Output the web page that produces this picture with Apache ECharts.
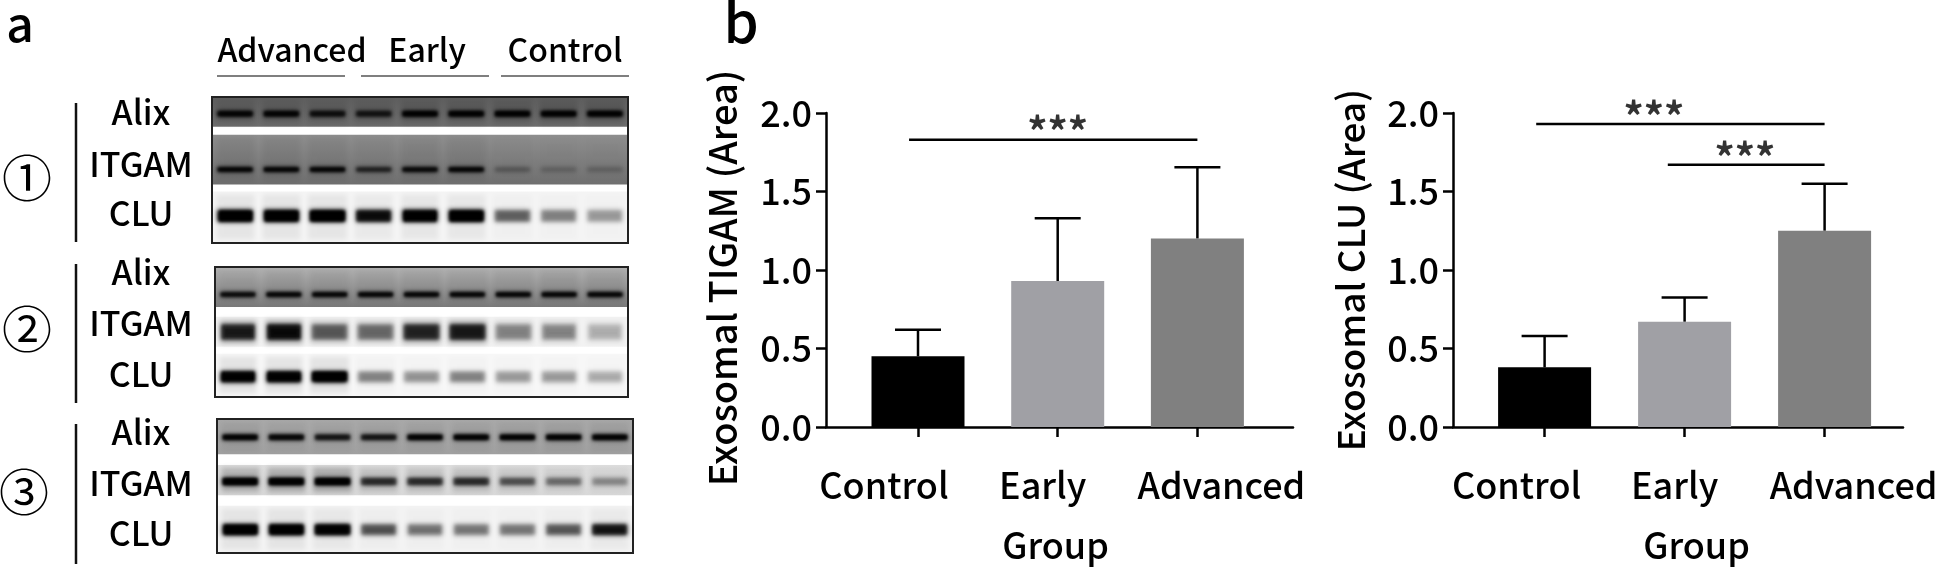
<!DOCTYPE html>
<html><head><meta charset="utf-8">
<style>html,body{margin:0;padding:0;background:#fff}#c{width:1944px;height:577px}</style>
<script src="https://cdn.jsdelivr.net/npm/echarts@6/dist/echarts.min.js"></script>
</head><body><div id="c"></div>
<script>
const groups = ['Control','Early','Advanced'];
const proteins = ['Alix','ITGAM','CLU'];
const tigamMean = [0.45,0.93,1.20];
const tigamErr  = [0.62,1.33,1.655];
const cluMean   = [0.38,0.67,1.25];
const cluErr    = [0.58,0.825,1.55];
const blot1Alix  = [.8,.8,.7,.65,.95,.95,.95,1,1];
const blot1Itgam = [1,1,.85,.6,.8,.85,.2,.12,.12];
const blot1Clu   = [.95,1,1,.7,.9,.85,.35,.25,.18];
const blot2Alix  = [.8,.95,.95,.85,.85,.85,.9,1,1];
const blot2Itgam = [.6,.7,.35,.3,.55,.6,.22,.22,.1];
const blot2Clu   = [1,.95,1,.25,.2,.25,.18,.18,.13];
const blot3Alix  = [1,.8,.7,.7,.85,.9,.9,1,1];
const blot3Itgam = [.85,.95,1,.55,.55,.55,.4,.3,.2];
const blot3Clu   = [1,1,.8,.4,.3,.28,.28,.38,.65];

const FONT = '"Noto Sans CJK SC","Noto Sans",sans-serif';
const W = 500;
const lanes = ['1','2','3','4','5','6','7','8','9'];
const blots = [
 {rows:[blot1Alix,blot1Itgam,blot1Clu], box:[212,97,416,146], frac:[[0,.2],[.255,.6],[.65,1]],
  shade:[['#5e5e5e','#6e6e6e'],['#8e8e8e','#6f6f6f'],['#f4f4f4','#f4f4f4']], pos:[.55,.7,.48], thick:[9,8,16], smear:[.1,.06,.06], label:'①', ly:[103,242], lab:[112,164,213], cy:178, cx:27},
 {rows:[blot2Alix,blot2Itgam,blot2Clu], box:[215,267,413,130], frac:[[0,.305],[.38,.615],[.67,1]],
  shade:[['#b0b0b0','#7a7a7a'],['#f2f2f2','#f2f2f2'],['#f7f7f7','#f7f7f7']], pos:[.68,.5,.55], thick:[8,20,15], smear:[.05,.3,.08], label:'②', ly:[264,403], lab:[272,323,374], cy:329, cx:27},
 {rows:[blot3Alix,blot3Itgam,blot3Clu], box:[217,419,416,134], frac:[[0,.26],[.34,.57],[.65,1]],
  shade:[['#a8a8a8','#a0a0a0'],['#dedede','#d8d8d8'],['#f3f3f3','#f3f3f3']], pos:[.5,.55,.52], thick:[9,11,15], smear:[.05,.22,.06], label:'③', ly:[424,564], lab:[432,483,533], cy:492, cx:24}
];
const charts = [
 {left:826,top:113,w:467,h:314,cx:918,step:139.7,mean:tigamMean,err:tigamErr,title:'Exosomal TIGAM (Area)',titleSize:38,
  namePad:[0,16,0,0],groupPad:[0,8,0,0],labelShift:[68,30,-48],
  sig:[{from:-0.064,to:2,y:1.83,sx:1.0,sy:1.83}]},
 {left:1453,top:113,w:450,h:314,cx:1544.6,step:140,mean:cluMean,err:cluErr,title:'Exosomal CLU (Area)',titleSize:37,
  namePad:[0,0,0,0],groupPad:[0,0,0,37],labelShift:[56,20,-58],
  sig:[{from:-0.06,to:2,y:1.93,sx:0.78,sy:1.93},{from:0.88,to:2,y:1.67,sx:1.43,sy:1.67}]}
];
const barColors = ['#000000','#a0a0a5','#808080'];

const grid=[],xAxis=[],yAxis=[],series=[],graphic=[];
function text(t,x,y,size,weight){graphic.push({type:'text',x,y,style:{text:t,font:(weight||500)+' '+size+'px '+FONT,fill:'#000',align:'center',verticalAlign:'middle'}});}

blots.forEach((b,bi)=>{
  grid.push({left:b.box[0],top:b.box[1],width:b.box[2],height:b.box[3],show:true,borderColor:'#222',borderWidth:2,backgroundColor:'#fff'});
  xAxis.push({type:'category',gridIndex:bi,data:lanes,show:false});
  yAxis.push({type:'category',gridIndex:bi,data:proteins,inverse:true,show:false});
  series.push({type:'custom',xAxisIndex:bi,yAxisIndex:bi,silent:true,z:2,clip:true,
    data:proteins.map((p,r)=>[0,r]),
    renderItem(params,api){
      const cs=params.coordSys,r=api.value(1),f=b.frac[r];
      return {type:'rect',shape:{x:cs.x+1,y:cs.y+1+(cs.height-2)*f[0],width:cs.width-2,height:(cs.height-2)*(f[1]-f[0])},
        style:{fill:new echarts.graphic.LinearGradient(0,0,0,1,[{offset:0,color:b.shade[r][0]},{offset:1,color:b.shade[r][1]}])}};
    }});
  const d=[];
  b.rows.forEach((row,r)=>row.forEach((v,l)=>d.push([l,r,v])));
  series.push({type:'custom',xAxisIndex:bi,yAxisIndex:bi,silent:true,z:3,clip:true,data:d,
    renderItem(params,api){
      const cs=params.coordSys,l=api.value(0),r=api.value(1),v=api.value(2),f=b.frac[r];
      const lw=cs.width/9,h=(cs.height-2)*(f[1]-f[0]);
      const cx=api.coord([l,r])[0],top=cs.y+1+(cs.height-2)*f[0];
      const cy=top+h*b.pos[r],t=b.thick[r],bw=lw*.84;
      const sa=b.smear[r]*v, a=Math.min(1,.12+v*1.05);
      const soft=(x,y,w,hh,al,blur)=>({type:'rect',shape:{x:x-W*4,y,width:w,height:hh},
        style:{fill:'#000',shadowColor:'rgba(0,0,0,'+al+')',shadowBlur:blur,shadowOffsetX:W*4}});
      return {type:'group',children:[
        soft(cx-bw/2,top+2,bw,h-4,sa,5),
        soft(cx-bw/2+2,cy-t/2+2,bw-4,Math.max(2,t-4),a,5),
        soft(cx-bw/2+2,cy-t/2+2,bw-4,Math.max(2,t-4),a*a,3)
      ]};
    }});
  text(b.label,b.cx,b.cy,50,400);
  graphic.push({type:'line',shape:{x1:76,y1:b.ly[0],x2:76,y2:b.ly[1]},style:{stroke:'#111',lineWidth:2.5}});
  proteins.forEach((p,i)=>text(p,141,b.lab[i],34));
});

charts.forEach((c,ci)=>{
  const gi=3+ci;
  grid.push({left:c.left,top:c.top,width:c.w,height:c.h});
  const xMin=(c.left-c.cx)/c.step,xMax=(c.left+c.w-c.cx)/c.step;
  const rich={};
  groups.forEach((g,i)=>{const s=c.labelShift[i];rich['c'+i]={fontFamily:FONT,fontWeight:500,fontSize:36,color:'#000',padding:s>0?[0,s,0,0]:[0,0,0,-s]};});
  xAxis.push({type:'value',gridIndex:gi,min:xMin,max:xMax,splitLine:{show:false},
    name:'Group',nameLocation:'middle',nameGap:100,nameTextStyle:{fontFamily:FONT,fontWeight:500,fontSize:36,color:'#000',padding:c.groupPad},
    axisLine:{show:true,onZero:false,lineStyle:{color:'#000',width:2.5}},
    axisTick:{show:true,length:10,customValues:[0,1,2],lineStyle:{color:'#000',width:2.5}},
    axisLabel:{show:true,margin:40,customValues:[0,1,2],formatter:v=>'{c'+Math.round(v)+'|'+groups[Math.round(v)]+'}',rich,showMinLabel:true,showMaxLabel:true}});
  yAxis.push({type:'value',gridIndex:gi,min:0,max:2,interval:.5,splitLine:{show:false},
    name:c.title,nameLocation:'middle',nameGap:84,nameTextStyle:{fontFamily:FONT,fontWeight:500,fontSize:c.titleSize,color:'#000',padding:c.namePad},
    axisLine:{show:true,onZero:false,lineStyle:{color:'#000',width:2.5}},
    axisTick:{show:true,length:10,lineStyle:{color:'#000',width:2.5}},
    axisLabel:{margin:14,fontFamily:FONT,fontWeight:500,fontSize:36,color:'#000',formatter:v=>v.toFixed(1)}});
  series.push({type:'bar',xAxisIndex:gi,yAxisIndex:gi,barWidth:93,z:3,
    data:c.mean.map((v,i)=>({value:[i,v],itemStyle:{color:barColors[i]}}))});
  series.push({type:'custom',xAxisIndex:gi,yAxisIndex:gi,z:2,silent:true,
    data:c.mean.map((v,i)=>[i,v,c.err[i]]),
    renderItem(params,api){
      const b=api.coord([api.value(0),api.value(1)]),t=api.coord([api.value(0),api.value(2)]);
      const st={stroke:'#000',lineWidth:2.5};
      return {type:'group',children:[
        {type:'line',shape:{x1:b[0],y1:b[1],x2:t[0],y2:t[1]},style:st},
        {type:'line',shape:{x1:t[0]-23,y1:t[1],x2:t[0]+23,y2:t[1]},style:st}]};
    }});
  c.sig.forEach(s=>{
    series.push({type:'line',xAxisIndex:gi,yAxisIndex:gi,symbol:'none',silent:true,z:4,
      lineStyle:{color:'#000',width:2.5},data:[[s.from,s.y],[s.to,s.y]]});
    series.push({type:'scatter',xAxisIndex:gi,yAxisIndex:gi,symbolSize:1,silent:true,z:4,itemStyle:{color:'transparent'},
      label:{show:true,formatter:'***',position:'top',distance:-13,fontFamily:FONT,fontWeight:700,fontSize:40,color:'#000'},
      data:[[s.sx,s.sy]]});
  });
});

text('a',20,24,48);
text('b',741,22,56);
[['Advanced',292,50],['Early',427,50],['Control',565,50]].forEach(t=>text(t[0],t[1],t[2],32));
[[217,345],[361,489],[501,629]].forEach(s=>graphic.push({type:'line',shape:{x1:s[0],y1:76,x2:s[1],y2:76},style:{stroke:'#555',lineWidth:1.5}}));

const chart=echarts.init(document.getElementById('c'),null,{renderer:'canvas'});
chart.setOption({animation:false,backgroundColor:'#fff',tooltip:{show:false},grid,xAxis,yAxis,series,graphic});
</script></body></html>
